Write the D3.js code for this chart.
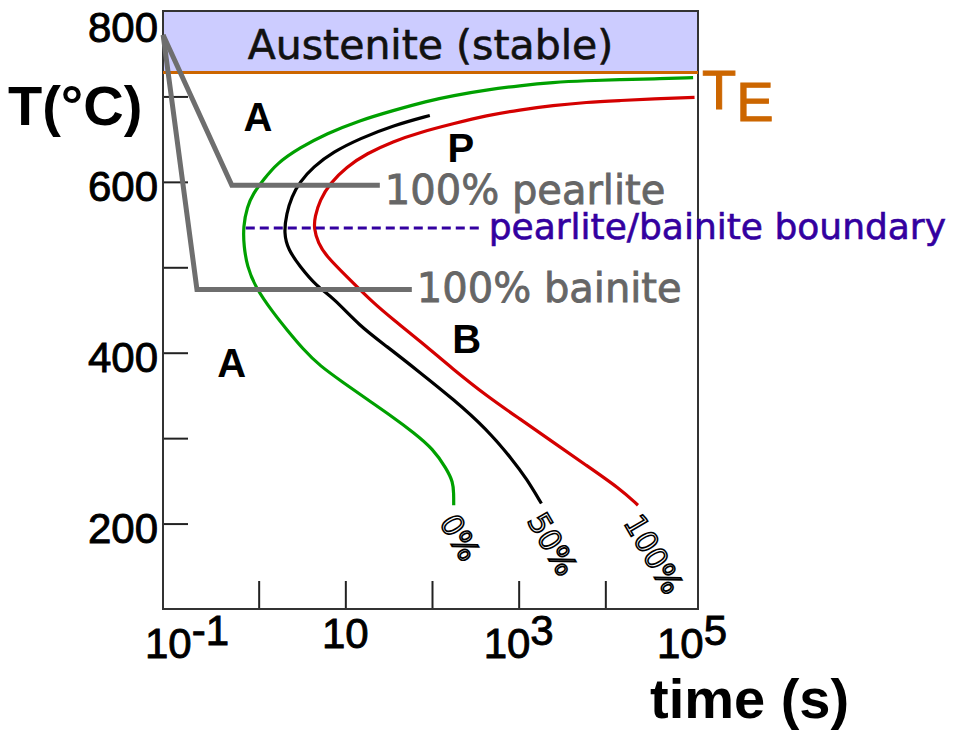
<!DOCTYPE html>
<html><head><meta charset="utf-8">
<script src="https://cdn.jsdelivr.net/npm/d3@7"></script>
<style>body{margin:0;background:#fff;} svg{display:block;}</style>
</head><body>
<svg id="c" width="955" height="733"></svg>
<script>
// ---------- data ----------
const yTickValues = [200, 300, 400, 500, 600, 700];
const yLabelValues = [200, 400, 600, 800];
const xTickValues = [1, 10, 100, 1000, 10000];
const xLabelValues = [0.1, 10, 1000, 100000];
const xLabelExps = ["-1", "", "3", "5"];

const eutectoidT = 728;            // T_E line
const boundaryT = 546;             // pearlite/bainite boundary
const boundaryTimes = [0.71, 385];

// transformation start (0 %), 50 % and finish (100 %) curves  [time s, T °C]
const curve0 = [[103000,722],[35500,720.5],[14700,719.6],[6050,718.5],[2470,716.5],[1030,712.6],[426,707.6],[174,701],[86.5,694.4],[35.6,683.5],[14.7,672],[6.07,656.4],[2.99,640],[1.61,621.5],[1.13,602],[0.865,586.5],[0.737,571],[0.662,547.6],[0.675,524.3],[0.737,501],[0.904,477.7],[1.47,446.7],[2.10,427.3],[3.26,404],[5.08,384.6],[9.44,365.2],[17.6,345.8],[35.6,324.4],[60.5,307],[103,287.5],[147,264.2],[175,248.7],[178,235],[178,221.5]];
const curve50 = [[94.4,677.7],[35.6,666],[14.7,650.6],[7.23,635],[4.26,617.5],[2.99,600],[2.40,582.6],[2.10,563.2],[1.95,540],[2.19,520.5],[2.99,501],[4.66,477.7],[7.23,464.6],[14.7,431],[29.8,407.8],[72.3,377],[175,345.8],[426,310.8],[861,274],[1230,252.6],[1830,223.5]];
const curve100 = [[107000,699],[35500,697.2],[14700,695.2],[6050,693.2],[2490,689.4],[1030,684.3],[426,677.7],[175,668],[72.3,657.9],[35.6,647.4],[17.6,633.1],[10.3,617.5],[6.63,598.2],[5.08,578.7],[4.45,559.3],[4.33,545.7],[4.85,528.3],[6.07,512.7],[10.3,489.4],[20.9,458.4],[35.6,438.9],[72.3,413.9],[175,380.7],[426,349.6],[1030,322.5],[2490,295.3],[6050,268.1],[14700,240.9],[23800,221.5]];
const curveNames = ["0%", "50%", "100%"];
const curveColors = ["#00a000", "#000000", "#d40000"];

// cooling paths (gray)
const pearlitePath = [[0.079,772],[0.49,596],[25,596]];
const bainitePath  = [[0.079,772],[0.194,474],[58.5,474]];
const pathLabels = ["100% pearlite", "100% bainite"];

// region letters [time, T, text]
const regionLetters = [[0.98,676,"A"],[0.49,388,"A"],[215,640,"P"],[252,416,"B"]];

// ---------- layout ----------
const svg = d3.select("#c");
const xs = d3.scaleLog().domain([0.1, 1e5]).range([172, 692]);
const ys = d3.scaleLinear().domain([100, 800]).range([609, 11]);
const frameL = 163, frameR = 698;
const SANS = "'Liberation Sans', Arial, sans-serif";
const VERD = "'DejaVu Sans', Verdana, sans-serif";

// austenite band
svg.append("rect").attr("x", frameL).attr("y", ys(800))
  .attr("width", frameR - frameL).attr("height", ys(eutectoidT) - ys(800))
  .attr("fill", "#ccccff");

svg.append("text").attr("x", (frameL + frameR) / 2).attr("y", 59)
  .attr("text-anchor", "middle").attr("font-family", VERD).attr("font-size", 41)
  .attr("fill", "#111").attr("stroke", "#111").attr("stroke-width", 0.6)
  .text("Austenite (stable)");

// axes ticks (inward)
const gx = svg.append("g").attr("transform", `translate(0,${ys(100)})`)
  .call(d3.axisBottom(xs).tickValues(xTickValues).tickSize(-28).tickSizeOuter(0).tickFormat(""));
gx.select(".domain").remove();
gx.selectAll("line").attr("stroke", "#222").attr("stroke-width", 2);

const gy = svg.append("g").attr("transform", `translate(${frameL},0)`)
  .call(d3.axisLeft(ys).tickValues(yTickValues).tickSize(-25).tickSizeOuter(0).tickFormat(""));
gy.select(".domain").remove();
gy.selectAll("line").attr("stroke", "#222").attr("stroke-width", 2);

// frame
svg.append("rect").attr("x", frameL).attr("y", ys(800))
  .attr("width", frameR - frameL).attr("height", ys(100) - ys(800))
  .attr("fill", "none").attr("stroke", "#333").attr("stroke-width", 2);

// eutectoid line
svg.append("line").attr("x1", frameL).attr("x2", frameR)
  .attr("y1", ys(eutectoidT)).attr("y2", ys(eutectoidT))
  .attr("stroke", "#cc6600").attr("stroke-width", 3);

const te = svg.append("text").attr("x", frameR + 4).attr("y", ys(eutectoidT) + 36)
  .attr("font-family", SANS).attr("font-size", 56).attr("fill", "#cc6600")
  .attr("stroke", "#cc6600").attr("stroke-width", 1);
te.append("tspan").text("T");
te.append("tspan").attr("dy", 12).text("E");

// curves
const line = d3.line().x(d => xs(d[0])).y(d => ys(d[1])).curve(d3.curveBasis);
[curve0, curve50, curve100].forEach((c, i) => {
  svg.append("path").attr("d", line(c)).attr("fill", "none")
    .attr("stroke", curveColors[i]).attr("stroke-width", 3.2);
  const end = c[c.length - 1];
  svg.append("text")
    .attr("transform", `translate(${xs(end[0]) - 15},${ys(end[1]) + 17}) rotate(60)`)
    .attr("font-family", VERD).attr("font-size", 30)
    .attr("fill", "#fff").attr("stroke", "#000").attr("stroke-width", 1.6)
    .text(curveNames[i]);
});

// gray cooling paths
const straight = d3.line().x(d => xs(d[0])).y(d => ys(d[1]));
[pearlitePath, bainitePath].forEach((p, i) => {
  svg.append("path").attr("d", straight(p)).attr("fill", "none")
    .attr("stroke", "#6e6e6e").attr("stroke-width", 5).attr("stroke-linejoin", "miter");
  const end = p[p.length - 1];
  svg.append("text").attr("x", xs(end[0]) + 5).attr("y", ys(end[1]) + (i === 0 ? 19 : 13))
    .attr("font-family", VERD).attr("font-size", 40).attr("fill", "#666")
    .attr("stroke", "#666").attr("stroke-width", 0.8)
    .text(pathLabels[i]);
});

// boundary
svg.append("line").attr("x1", xs(boundaryTimes[0])).attr("x2", xs(boundaryTimes[1]))
  .attr("y1", ys(boundaryT)).attr("y2", ys(boundaryT))
  .attr("stroke", "#3300a0").attr("stroke-width", 3).attr("stroke-dasharray", "9,5");
svg.append("text").attr("x", xs(boundaryTimes[1]) + 6).attr("y", ys(boundaryT) + 11)
  .attr("font-family", VERD).attr("font-size", 36).attr("fill", "#3300a0")
  .attr("stroke", "#3300a0").attr("stroke-width", 0.6)
  .text("pearlite/bainite boundary");

// region letters
regionLetters.forEach(r => {
  svg.append("text").attr("x", xs(r[0])).attr("y", ys(r[1]))
    .attr("text-anchor", "middle").attr("dominant-baseline", "central")
    .attr("font-family", SANS).attr("font-weight", "bold").attr("font-size", 40)
    .attr("fill", "#000").text(r[2]);
});

// y labels
yLabelValues.forEach(v => {
  svg.append("text").attr("x", frameL - 5).attr("y", Math.max(ys(v) + 5, 27))
    .attr("text-anchor", "end").attr("dominant-baseline", "central")
    .attr("font-family", SANS).attr("font-size", 42).attr("fill", "#000")
    .attr("stroke", "#000").attr("stroke-width", 0.9).text(v);
});

// x labels
xLabelValues.forEach((v, i) => {
  const t = svg.append("text")
    .attr("x", Math.max(xs(v), xs.range()[0] + 15))
    .attr("y", 648 + (xLabelExps[i] ? 10 : 0))
    .attr("text-anchor", "middle").attr("font-family", SANS).attr("font-size", 42)
    .attr("fill", "#000").attr("stroke", "#000").attr("stroke-width", 0.9);
  t.append("tspan").text("10");
  if (xLabelExps[i]) t.append("tspan").attr("dy", -13).text(xLabelExps[i]);
});

// axis titles
svg.append("text").attr("x", 8).attr("y", 125).attr("font-family", SANS)
  .attr("font-weight", "bold").attr("font-size", 56).attr("fill", "#000").text("T(°C)");
svg.append("text").attr("x", 650).attr("y", 718).attr("font-family", SANS)
  .attr("font-weight", "bold").attr("font-size", 56).attr("fill", "#000").text("time (s)");
</script>
</body></html>
